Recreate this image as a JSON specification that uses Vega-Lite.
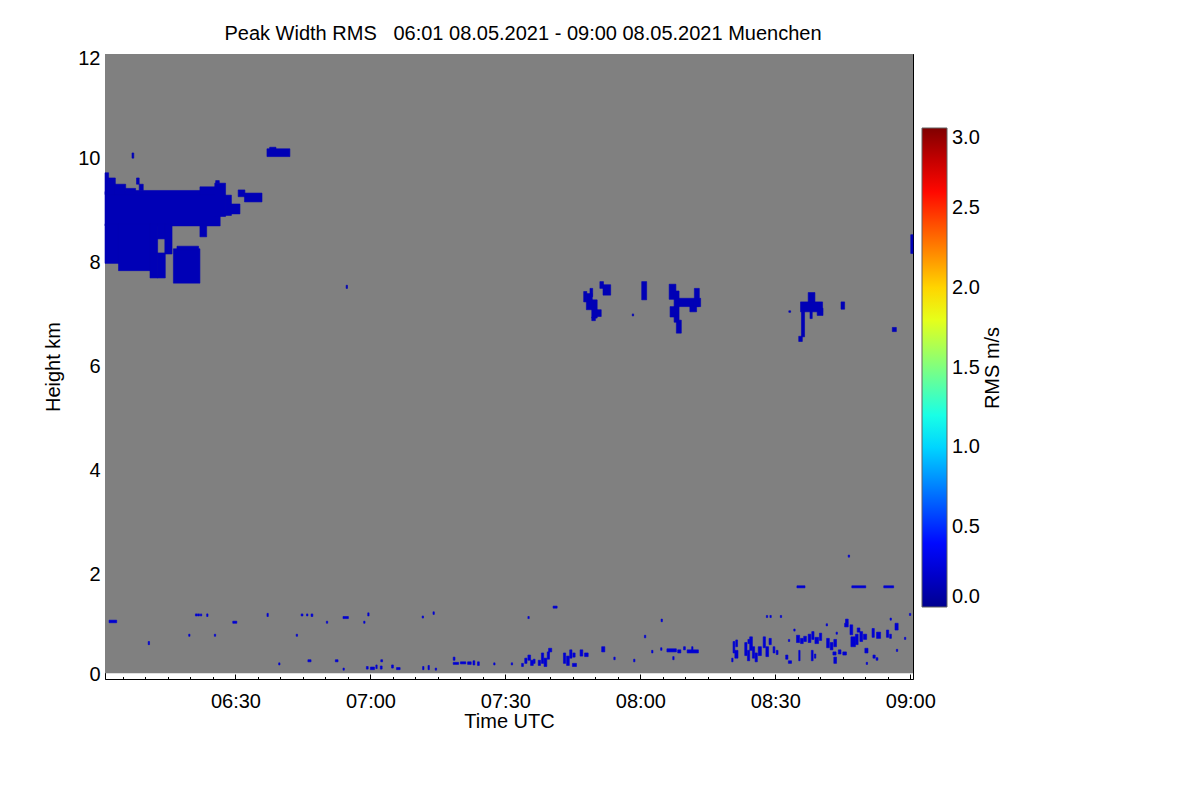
{
  "$schema": "https://vega.github.io/schema/vega-lite/v6.json",
  "width": 808,
  "height": 625,
  "autosize": {"type": "none"},
  "padding": {"left": 105, "top": 54, "right": 287, "bottom": 121},
  "background": "white",
  "title": {
    "text": "Peak Width RMS\u00a0\u00a0\u00a006:01 08.05.2021 - 09:00 08.05.2021 Muenchen",
    "fontSize": 20,
    "fontWeight": "normal",
    "font": "Liberation Sans",
    "color": "black",
    "anchor": "middle",
    "offset": 4,
    "dx": 14
  },
  "config": {
    "view": {"stroke": null},
    "axis": {
      "domainColor": "black",
      "tickColor": "black",
      "labelColor": "black",
      "titleColor": "black",
      "labelFont": "Liberation Sans",
      "titleFont": "Liberation Sans",
      "labelFontSize": 20,
      "titleFontSize": 20,
      "titleFontWeight": "normal",
      "grid": false,
      "labelOverlap": false,
      "labelFlush": false,
      "zindex": 1
    }
  },
  "datasets": {
    "bg": [
      {"t0": 1, "t1": 180.6, "h0": 0.11, "h1": 12}
    ],
    "echo": [
      {"t0": 1.0, "t1": 26.6, "h0": 8.70, "h1": 9.36, "rms": 0.13},
      {"t0": 1.0, "t1": 1.8, "h0": 9.30, "h1": 9.72, "rms": 0.13},
      {"t0": 1.7, "t1": 3.3, "h0": 9.30, "h1": 9.62, "rms": 0.13},
      {"t0": 3.2, "t1": 5.6, "h0": 9.30, "h1": 9.50, "rms": 0.13},
      {"t0": 5.5, "t1": 7.8, "h0": 9.30, "h1": 9.42, "rms": 0.13},
      {"t0": 7.7, "t1": 22.2, "h0": 9.30, "h1": 9.38, "rms": 0.13},
      {"t0": 8.0, "t1": 8.6, "h0": 9.50, "h1": 9.62, "rms": 0.13},
      {"t0": 8.6, "t1": 9.5, "h0": 9.38, "h1": 9.50, "rms": 0.13},
      {"t0": 22.1, "t1": 25.5, "h0": 9.30, "h1": 9.45, "rms": 0.13},
      {"t0": 25.4, "t1": 27.8, "h0": 8.88, "h1": 9.52, "rms": 0.13},
      {"t0": 25.6, "t1": 26.4, "h0": 9.52, "h1": 9.57, "rms": 0.13},
      {"t0": 27.7, "t1": 29.1, "h0": 8.90, "h1": 9.29, "rms": 0.13},
      {"t0": 29.0, "t1": 31.0, "h0": 8.93, "h1": 9.12, "rms": 0.13},
      {"t0": 1.0, "t1": 4.1, "h0": 7.98, "h1": 8.74, "rms": 0.13},
      {"t0": 4.0, "t1": 11.1, "h0": 7.84, "h1": 8.74, "rms": 0.13},
      {"t0": 11.0, "t1": 12.7, "h0": 7.70, "h1": 8.74, "rms": 0.13},
      {"t0": 12.6, "t1": 14.4, "h0": 7.70, "h1": 8.18, "rms": 0.13},
      {"t0": 12.6, "t1": 14.4, "h0": 8.45, "h1": 8.74, "rms": 0.13},
      {"t0": 14.3, "t1": 15.9, "h0": 8.16, "h1": 8.74, "rms": 0.13},
      {"t0": 22.1, "t1": 23.6, "h0": 8.49, "h1": 8.74, "rms": 0.13},
      {"t0": 16.2, "t1": 22.1, "h0": 7.60, "h1": 8.26, "rms": 0.13},
      {"t0": 17.0, "t1": 21.8, "h0": 8.24, "h1": 8.31, "rms": 0.13},
      {"t0": 30.6, "t1": 32.1, "h0": 9.26, "h1": 9.39, "rms": 0.13},
      {"t0": 32.0, "t1": 35.9, "h0": 9.16, "h1": 9.33, "rms": 0.13},
      {"t0": 37.0, "t1": 42.1, "h0": 10.03, "h1": 10.18, "rms": 0.13},
      {"t0": 37.6, "t1": 39.0, "h0": 10.17, "h1": 10.21, "rms": 0.13},
      {"t0": 7.0, "t1": 7.4, "h0": 10.00, "h1": 10.10, "rms": 0.13},
      {"t0": 54.6, "t1": 54.9, "h0": 7.50, "h1": 7.56, "rms": 0.13},
      {"t0": 107.4, "t1": 108.1, "h0": 7.24, "h1": 7.44, "rms": 0.13},
      {"t0": 108.0, "t1": 109.3, "h0": 7.09, "h1": 7.40, "rms": 0.13},
      {"t0": 108.8, "t1": 109.4, "h0": 7.34, "h1": 7.50, "rms": 0.13},
      {"t0": 109.2, "t1": 110.4, "h0": 6.93, "h1": 7.28, "rms": 0.13},
      {"t0": 110.3, "t1": 111.3, "h0": 6.96, "h1": 7.09, "rms": 0.13},
      {"t0": 109.2, "t1": 110.0, "h0": 6.88, "h1": 6.95, "rms": 0.13},
      {"t0": 111.0, "t1": 111.8, "h0": 7.50, "h1": 7.63, "rms": 0.13},
      {"t0": 111.7, "t1": 113.4, "h0": 7.37, "h1": 7.57, "rms": 0.13},
      {"t0": 120.3, "t1": 121.4, "h0": 7.28, "h1": 7.63, "rms": 0.13},
      {"t0": 118.2, "t1": 118.5, "h0": 6.97, "h1": 7.01, "rms": 0.13},
      {"t0": 126.4, "t1": 127.9, "h0": 7.29, "h1": 7.58, "rms": 0.13},
      {"t0": 127.5, "t1": 128.6, "h0": 6.85, "h1": 7.45, "rms": 0.13},
      {"t0": 126.6, "t1": 127.7, "h0": 6.95, "h1": 7.15, "rms": 0.13},
      {"t0": 128.0, "t1": 129.1, "h0": 6.64, "h1": 6.89, "rms": 0.13},
      {"t0": 128.5, "t1": 133.4, "h0": 7.15, "h1": 7.31, "rms": 0.13},
      {"t0": 131.0, "t1": 132.5, "h0": 7.05, "h1": 7.16, "rms": 0.13},
      {"t0": 132.0, "t1": 133.1, "h0": 7.15, "h1": 7.50, "rms": 0.13},
      {"t0": 155.6, "t1": 160.5, "h0": 7.05, "h1": 7.24, "rms": 0.13},
      {"t0": 157.3, "t1": 158.8, "h0": 7.23, "h1": 7.42, "rms": 0.13},
      {"t0": 155.8, "t1": 156.5, "h0": 6.57, "h1": 7.06, "rms": 0.13},
      {"t0": 155.2, "t1": 156.0, "h0": 6.48, "h1": 6.58, "rms": 0.13},
      {"t0": 159.3, "t1": 160.6, "h0": 6.98, "h1": 7.12, "rms": 0.13},
      {"t0": 157.7, "t1": 158.2, "h0": 6.92, "h1": 7.06, "rms": 0.13},
      {"t0": 164.6, "t1": 165.4, "h0": 7.10, "h1": 7.24, "rms": 0.13},
      {"t0": 153.0, "t1": 153.4, "h0": 7.04, "h1": 7.07, "rms": 0.13},
      {"t0": 176.0, "t1": 176.9, "h0": 6.67, "h1": 6.75, "rms": 0.13},
      {"t0": 180.1, "t1": 180.6, "h0": 8.17, "h1": 8.53, "rms": 0.13},
      {"t0": 1.9, "t1": 3.6, "h0": 1.08, "h1": 1.13, "rms": 0.22},
      {"t0": 10.6, "t1": 10.9, "h0": 0.66, "h1": 0.72, "rms": 0.22},
      {"t0": 21.1, "t1": 21.5, "h0": 1.21, "h1": 1.25, "rms": 0.22},
      {"t0": 21.6, "t1": 22.0, "h0": 1.21, "h1": 1.25, "rms": 0.22},
      {"t0": 22.2, "t1": 22.5, "h0": 1.21, "h1": 1.25, "rms": 0.22},
      {"t0": 23.6, "t1": 23.9, "h0": 1.20, "h1": 1.25, "rms": 0.22},
      {"t0": 19.6, "t1": 19.9, "h0": 0.82, "h1": 0.86, "rms": 0.22},
      {"t0": 25.3, "t1": 25.6, "h0": 0.82, "h1": 0.86, "rms": 0.22},
      {"t0": 29.4, "t1": 30.3, "h0": 1.07, "h1": 1.11, "rms": 0.22},
      {"t0": 37.0, "t1": 37.3, "h0": 1.20, "h1": 1.26, "rms": 0.22},
      {"t0": 39.6, "t1": 39.9, "h0": 0.27, "h1": 0.31, "rms": 0.22},
      {"t0": 43.5, "t1": 43.8, "h0": 0.82, "h1": 0.86, "rms": 0.22},
      {"t0": 44.6, "t1": 45.0, "h0": 1.21, "h1": 1.25, "rms": 0.22},
      {"t0": 45.8, "t1": 46.1, "h0": 1.21, "h1": 1.25, "rms": 0.22},
      {"t0": 46.8, "t1": 47.2, "h0": 1.20, "h1": 1.25, "rms": 0.22},
      {"t0": 46.1, "t1": 46.8, "h0": 0.33, "h1": 0.37, "rms": 0.22},
      {"t0": 50.2, "t1": 50.5, "h0": 1.07, "h1": 1.11, "rms": 0.22},
      {"t0": 52.2, "t1": 52.8, "h0": 0.33, "h1": 0.37, "rms": 0.22},
      {"t0": 53.9, "t1": 55.1, "h0": 1.16, "h1": 1.20, "rms": 0.22},
      {"t0": 53.9, "t1": 54.2, "h0": 0.17, "h1": 0.21, "rms": 0.22},
      {"t0": 58.5, "t1": 58.8, "h0": 1.07, "h1": 1.11, "rms": 0.22},
      {"t0": 59.4, "t1": 59.7, "h0": 1.21, "h1": 1.27, "rms": 0.22},
      {"t0": 59.1, "t1": 59.5, "h0": 0.19, "h1": 0.24, "rms": 0.22},
      {"t0": 60.0, "t1": 60.9, "h0": 0.18, "h1": 0.23, "rms": 0.22},
      {"t0": 61.2, "t1": 61.5, "h0": 0.20, "h1": 0.27, "rms": 0.22},
      {"t0": 62.3, "t1": 62.7, "h0": 0.33, "h1": 0.37, "rms": 0.22},
      {"t0": 62.2, "t1": 62.6, "h0": 0.19, "h1": 0.25, "rms": 0.22},
      {"t0": 64.7, "t1": 65.1, "h0": 0.21, "h1": 0.27, "rms": 0.22},
      {"t0": 65.8, "t1": 66.6, "h0": 0.18, "h1": 0.22, "rms": 0.22},
      {"t0": 71.5, "t1": 71.8, "h0": 1.17, "h1": 1.21, "rms": 0.22},
      {"t0": 73.9, "t1": 74.2, "h0": 1.24, "h1": 1.29, "rms": 0.22},
      {"t0": 71.6, "t1": 71.9, "h0": 0.18, "h1": 0.24, "rms": 0.22},
      {"t0": 72.8, "t1": 73.1, "h0": 0.18, "h1": 0.26, "rms": 0.22},
      {"t0": 74.4, "t1": 74.7, "h0": 0.17, "h1": 0.21, "rms": 0.22},
      {"t0": 78.4, "t1": 78.8, "h0": 0.36, "h1": 0.42, "rms": 0.22},
      {"t0": 78.4, "t1": 79.6, "h0": 0.28, "h1": 0.32, "rms": 0.22},
      {"t0": 80.0, "t1": 81.2, "h0": 0.29, "h1": 0.33, "rms": 0.22},
      {"t0": 81.6, "t1": 82.4, "h0": 0.28, "h1": 0.33, "rms": 0.22},
      {"t0": 82.8, "t1": 83.2, "h0": 0.27, "h1": 0.35, "rms": 0.22},
      {"t0": 83.8, "t1": 84.2, "h0": 0.26, "h1": 0.33, "rms": 0.22},
      {"t0": 87.4, "t1": 87.7, "h0": 0.27, "h1": 0.31, "rms": 0.22},
      {"t0": 91.3, "t1": 91.6, "h0": 0.27, "h1": 0.31, "rms": 0.22},
      {"t0": 93.6, "t1": 94.0, "h0": 0.24, "h1": 0.30, "rms": 0.22},
      {"t0": 94.3, "t1": 94.8, "h0": 0.30, "h1": 0.40, "rms": 0.22},
      {"t0": 95.0, "t1": 95.6, "h0": 0.36, "h1": 0.46, "rms": 0.22},
      {"t0": 95.6, "t1": 96.2, "h0": 0.26, "h1": 0.36, "rms": 0.22},
      {"t0": 96.2, "t1": 96.6, "h0": 0.30, "h1": 0.38, "rms": 0.22},
      {"t0": 95.0, "t1": 95.3, "h0": 1.16, "h1": 1.20, "rms": 0.22},
      {"t0": 97.3, "t1": 97.8, "h0": 0.26, "h1": 0.36, "rms": 0.22},
      {"t0": 98.0, "t1": 98.5, "h0": 0.30, "h1": 0.50, "rms": 0.22},
      {"t0": 98.6, "t1": 99.2, "h0": 0.24, "h1": 0.40, "rms": 0.22},
      {"t0": 99.3, "t1": 99.8, "h0": 0.38, "h1": 0.52, "rms": 0.22},
      {"t0": 99.6, "t1": 100.3, "h0": 0.52, "h1": 0.59, "rms": 0.22},
      {"t0": 100.6, "t1": 101.5, "h0": 1.36, "h1": 1.40, "rms": 0.22},
      {"t0": 102.9, "t1": 103.4, "h0": 0.30, "h1": 0.50, "rms": 0.22},
      {"t0": 103.6, "t1": 104.2, "h0": 0.26, "h1": 0.44, "rms": 0.22},
      {"t0": 104.3, "t1": 104.8, "h0": 0.40, "h1": 0.56, "rms": 0.22},
      {"t0": 104.9, "t1": 105.8, "h0": 0.24, "h1": 0.30, "rms": 0.22},
      {"t0": 105.0, "t1": 105.5, "h0": 0.42, "h1": 0.50, "rms": 0.22},
      {"t0": 106.6, "t1": 107.2, "h0": 0.44, "h1": 0.56, "rms": 0.22},
      {"t0": 107.6, "t1": 108.4, "h0": 0.43, "h1": 0.50, "rms": 0.22},
      {"t0": 111.4, "t1": 112.1, "h0": 0.52, "h1": 0.62, "rms": 0.22},
      {"t0": 114.1, "t1": 114.4, "h0": 0.37, "h1": 0.42, "rms": 0.22},
      {"t0": 118.5, "t1": 118.8, "h0": 0.33, "h1": 0.38, "rms": 0.22},
      {"t0": 120.9, "t1": 121.2, "h0": 0.79, "h1": 0.84, "rms": 0.22},
      {"t0": 124.6, "t1": 124.9, "h0": 1.10, "h1": 1.15, "rms": 0.22},
      {"t0": 122.5, "t1": 122.8, "h0": 0.50, "h1": 0.55, "rms": 0.22},
      {"t0": 124.5, "t1": 124.8, "h0": 0.55, "h1": 0.60, "rms": 0.22},
      {"t0": 125.9, "t1": 128.0, "h0": 0.52, "h1": 0.58, "rms": 0.22},
      {"t0": 128.3, "t1": 129.0, "h0": 0.50, "h1": 0.56, "rms": 0.22},
      {"t0": 129.6, "t1": 130.0, "h0": 0.56, "h1": 0.62, "rms": 0.22},
      {"t0": 130.4, "t1": 132.9, "h0": 0.50, "h1": 0.56, "rms": 0.22},
      {"t0": 131.4, "t1": 131.7, "h0": 0.56, "h1": 0.62, "rms": 0.22},
      {"t0": 127.2, "t1": 127.5, "h0": 0.37, "h1": 0.43, "rms": 0.22},
      {"t0": 140.3, "t1": 140.6, "h0": 0.33, "h1": 0.40, "rms": 0.22},
      {"t0": 140.6, "t1": 141.0, "h0": 0.50, "h1": 0.72, "rms": 0.22},
      {"t0": 141.0, "t1": 141.7, "h0": 0.40, "h1": 0.55, "rms": 0.22},
      {"t0": 141.2, "t1": 141.6, "h0": 0.62, "h1": 0.75, "rms": 0.22},
      {"t0": 143.2, "t1": 143.7, "h0": 0.45, "h1": 0.70, "rms": 0.22},
      {"t0": 143.8, "t1": 144.3, "h0": 0.35, "h1": 0.55, "rms": 0.22},
      {"t0": 144.3, "t1": 144.9, "h0": 0.55, "h1": 0.81, "rms": 0.22},
      {"t0": 144.9, "t1": 145.4, "h0": 0.40, "h1": 0.62, "rms": 0.22},
      {"t0": 143.9, "t1": 144.3, "h0": 0.68, "h1": 0.76, "rms": 0.22},
      {"t0": 145.5, "t1": 146.0, "h0": 0.33, "h1": 0.50, "rms": 0.22},
      {"t0": 146.2, "t1": 146.9, "h0": 0.45, "h1": 0.62, "rms": 0.22},
      {"t0": 147.3, "t1": 147.8, "h0": 0.60, "h1": 0.81, "rms": 0.22},
      {"t0": 147.9, "t1": 148.5, "h0": 0.43, "h1": 0.62, "rms": 0.22},
      {"t0": 148.6, "t1": 149.1, "h0": 0.66, "h1": 0.78, "rms": 0.22},
      {"t0": 148.0, "t1": 148.3, "h0": 1.18, "h1": 1.22, "rms": 0.22},
      {"t0": 148.8, "t1": 149.1, "h0": 1.18, "h1": 1.22, "rms": 0.22},
      {"t0": 151.1, "t1": 151.4, "h0": 1.18, "h1": 1.22, "rms": 0.22},
      {"t0": 149.5, "t1": 149.9, "h0": 0.50, "h1": 0.62, "rms": 0.22},
      {"t0": 150.2, "t1": 150.6, "h0": 0.47, "h1": 0.55, "rms": 0.22},
      {"t0": 152.3, "t1": 152.8, "h0": 0.38, "h1": 0.46, "rms": 0.22},
      {"t0": 152.9, "t1": 153.6, "h0": 0.30, "h1": 0.35, "rms": 0.22},
      {"t0": 152.9, "t1": 153.2, "h0": 0.72, "h1": 0.76, "rms": 0.22},
      {"t0": 154.1, "t1": 154.4, "h0": 0.92, "h1": 0.96, "rms": 0.22},
      {"t0": 154.7, "t1": 155.4, "h0": 0.70, "h1": 0.84, "rms": 0.22},
      {"t0": 155.6, "t1": 156.2, "h0": 0.68, "h1": 0.78, "rms": 0.22},
      {"t0": 156.3, "t1": 156.9, "h0": 0.72, "h1": 0.82, "rms": 0.22},
      {"t0": 155.2, "t1": 155.5, "h0": 0.35, "h1": 0.55, "rms": 0.22},
      {"t0": 157.3, "t1": 157.9, "h0": 0.70, "h1": 0.86, "rms": 0.22},
      {"t0": 158.1, "t1": 158.6, "h0": 0.76, "h1": 0.91, "rms": 0.22},
      {"t0": 158.8, "t1": 159.6, "h0": 0.68, "h1": 0.80, "rms": 0.22},
      {"t0": 159.8, "t1": 160.3, "h0": 0.74, "h1": 0.88, "rms": 0.22},
      {"t0": 158.0, "t1": 158.4, "h0": 0.35, "h1": 0.55, "rms": 0.22},
      {"t0": 158.7, "t1": 159.0, "h0": 0.40, "h1": 0.48, "rms": 0.22},
      {"t0": 161.4, "t1": 162.0, "h0": 0.60, "h1": 0.78, "rms": 0.22},
      {"t0": 162.2, "t1": 162.8, "h0": 0.56, "h1": 0.70, "rms": 0.22},
      {"t0": 163.0, "t1": 163.6, "h0": 0.62, "h1": 0.76, "rms": 0.22},
      {"t0": 162.8, "t1": 163.5, "h0": 0.46, "h1": 0.52, "rms": 0.22},
      {"t0": 164.0, "t1": 164.6, "h0": 0.48, "h1": 0.56, "rms": 0.22},
      {"t0": 165.0, "t1": 165.8, "h0": 0.46, "h1": 0.52, "rms": 0.22},
      {"t0": 163.0, "t1": 163.6, "h0": 0.30, "h1": 0.42, "rms": 0.22},
      {"t0": 165.4, "t1": 166.2, "h0": 1.00, "h1": 1.07, "rms": 0.22},
      {"t0": 165.6, "t1": 166.2, "h0": 1.07, "h1": 1.15, "rms": 0.22},
      {"t0": 166.6, "t1": 167.2, "h0": 0.85, "h1": 1.04, "rms": 0.22},
      {"t0": 166.8, "t1": 167.8, "h0": 0.62, "h1": 0.81, "rms": 0.22},
      {"t0": 167.8, "t1": 168.4, "h0": 0.66, "h1": 0.86, "rms": 0.22},
      {"t0": 168.2, "t1": 168.8, "h0": 0.90, "h1": 0.98, "rms": 0.22},
      {"t0": 168.8, "t1": 169.4, "h0": 0.72, "h1": 0.91, "rms": 0.22},
      {"t0": 169.6, "t1": 170.3, "h0": 0.76, "h1": 0.86, "rms": 0.22},
      {"t0": 169.9, "t1": 170.6, "h0": 0.50, "h1": 0.59, "rms": 0.22},
      {"t0": 171.7, "t1": 172.2, "h0": 0.40, "h1": 0.46, "rms": 0.22},
      {"t0": 172.4, "t1": 172.8, "h0": 0.36, "h1": 0.41, "rms": 0.22},
      {"t0": 171.5, "t1": 172.0, "h0": 0.80, "h1": 0.97, "rms": 0.22},
      {"t0": 172.5, "t1": 173.4, "h0": 0.78, "h1": 0.90, "rms": 0.22},
      {"t0": 174.7, "t1": 175.2, "h0": 0.80, "h1": 0.94, "rms": 0.22},
      {"t0": 175.4, "t1": 175.8, "h0": 0.78, "h1": 0.86, "rms": 0.22},
      {"t0": 175.5, "t1": 175.8, "h0": 1.13, "h1": 1.17, "rms": 0.22},
      {"t0": 176.6, "t1": 177.3, "h0": 0.94, "h1": 1.07, "rms": 0.22},
      {"t0": 176.9, "t1": 177.2, "h0": 0.53, "h1": 0.57, "rms": 0.22},
      {"t0": 178.7, "t1": 179.0, "h0": 0.76, "h1": 0.80, "rms": 0.22},
      {"t0": 179.8, "t1": 180.1, "h0": 1.22, "h1": 1.26, "rms": 0.22},
      {"t0": 161.3, "t1": 161.6, "h0": 1.02, "h1": 1.06, "rms": 0.22},
      {"t0": 170.2, "t1": 170.5, "h0": 0.28, "h1": 0.32, "rms": 0.22},
      {"t0": 163.5, "t1": 163.8, "h0": 0.86, "h1": 0.90, "rms": 0.22},
      {"t0": 154.8, "t1": 156.6, "h0": 1.75, "h1": 1.79, "rms": 0.22},
      {"t0": 167.0, "t1": 170.1, "h0": 1.75, "h1": 1.79, "rms": 0.22},
      {"t0": 174.1, "t1": 176.3, "h0": 1.75, "h1": 1.79, "rms": 0.22},
      {"t0": 166.2, "t1": 166.5, "h0": 2.34, "h1": 2.38, "rms": 0.22}
    ]
  },
  "layer": [
    {
      "data": {"name": "bg"},
      "mark": {"type": "rect", "color": "#808080"},
      "encoding": {
        "x": {
          "field": "t0",
          "type": "quantitative",
          "scale": {"domain": [1, 180.6], "nice": false, "zero": false},
          "axis": {
            "orient": "bottom",
            "title": "Time UTC",
            "values": [5, 10, 15, 20, 25, 30, 35, 40, 45, 50, 55, 60, 65, 70, 75, 80, 85, 90, 95, 100, 105, 110, 115, 120, 125, 130, 135, 140, 145, 150, 155, 160, 165, 170, 175, 180],
            "labelExpr": "datum.value % 30 == 0 ? '0' + (6 + floor(datum.value / 60)) + ':' + (datum.value % 60 == 0 ? '00' : '30') : ''",
            "tickSize": {"condition": {"test": "datum.value % 30 == 0", "value": -5}, "value": -2.5},
            "labelPadding": 17,
            "titlePadding": -2
          }
        },
        "x2": {"field": "t1"},
        "y": {
          "field": "h0",
          "type": "quantitative",
          "scale": {"domain": [0, 12], "nice": false, "zero": false},
          "axis": {
            "orient": "left",
            "title": "Height km",
            "values": [0, 0.5, 1, 1.5, 2, 2.5, 3, 3.5, 4, 4.5, 5, 5.5, 6, 6.5, 7, 7.5, 8, 8.5, 9, 9.5, 10, 10.5, 11, 11.5, 12],
            "labelExpr": "datum.value % 2 == 0 ? format(datum.value, 'd') : ''",
            "tickSize": {"condition": {"test": "datum.value % 2 == 0", "value": -7}, "value": -3.5},
            "labelOffset": {"condition": [{"test": "datum.value == 12", "value": 4}, {"test": "datum.value == 0", "value": -5}], "value": 0},
            "labelPadding": 12,
            "titlePadding": 14
          }
        },
        "y2": {"field": "h1"}
      }
    },
    {
      "data": {"name": "echo"},
      "mark": {"type": "rect", "strokeWidth": 0.6, "stroke": {"expr": "scale('color', datum.rms)"}},
      "encoding": {
        "x": {
          "field": "t0",
          "type": "quantitative",
          "scale": {"domain": [1, 180.6], "nice": false, "zero": false},
          "axis": {
            "orient": "top",
            "labels": false,
            "title": null,
            "values": [5, 10, 15, 20, 25, 30, 35, 40, 45, 50, 55, 60, 65, 70, 75, 80, 85, 90, 95, 100, 105, 110, 115, 120, 125, 130, 135, 140, 145, 150, 155, 160, 165, 170, 175, 180],
            "tickSize": {"condition": {"test": "datum.value % 30 == 0", "value": -5}, "value": -2.5}
          }
        },
        "x2": {"field": "t1"},
        "y": {
          "field": "h0",
          "type": "quantitative",
          "scale": {"domain": [0, 12], "nice": false, "zero": false},
          "axis": {
            "orient": "right",
            "labels": false,
            "title": null,
            "values": [0, 0.5, 1, 1.5, 2, 2.5, 3, 3.5, 4, 4.5, 5, 5.5, 6, 6.5, 7, 7.5, 8, 8.5, 9, 9.5, 10, 10.5, 11, 11.5, 12],
            "tickSize": {"condition": {"test": "datum.value % 2 == 0", "value": -7}, "value": -3.5}
          }
        },
        "y2": {"field": "h1"},
        "color": {
          "field": "rms",
          "type": "quantitative",
          "scale": {
            "domain": [0, 0.375, 1.125, 1.875, 2.625, 3],
            "range": ["#00008f", "#0000ff", "#00ffff", "#ffff00", "#ff0000", "#800000"],
            "interpolate": "rgb"
          },
          "legend": {
            "orient": "none",
            "legendX": 817,
            "legendY": 74,
            "direction": "vertical",
            "gradientLength": 479,
            "gradientThickness": 25,
            "gradientStrokeColor": "#606060",
            "gradientStrokeWidth": 1,
            "values": [0, 0.5, 1, 1.5, 2, 2.5, 3],
            "format": ".1f",
            "labelFont": "Liberation Sans",
            "labelFontSize": 20,
            "labelColor": "black",
            "labelOffset": 5,
            "labelOverlap": false,
            "title": "RMS m/s",
            "titleOrient": "right",
            "titleAnchor": "middle",
            "titleFont": "Liberation Sans",
            "titleFontSize": 20,
            "titleFontWeight": "normal",
            "titleColor": "black",
            "titlePadding": 3,
            "padding": 0,
            "encode": {
              "title": {
                "update": {
                  "angle": {"value": -90},
                  "baseline": {"value": "top"}
                }
              }
            }
          }
        }
      }
    }
  ],
  "resolve": {
    "scale": {"x": "independent", "y": "independent"},
    "axis": {"x": "independent", "y": "independent"}
  }
}
